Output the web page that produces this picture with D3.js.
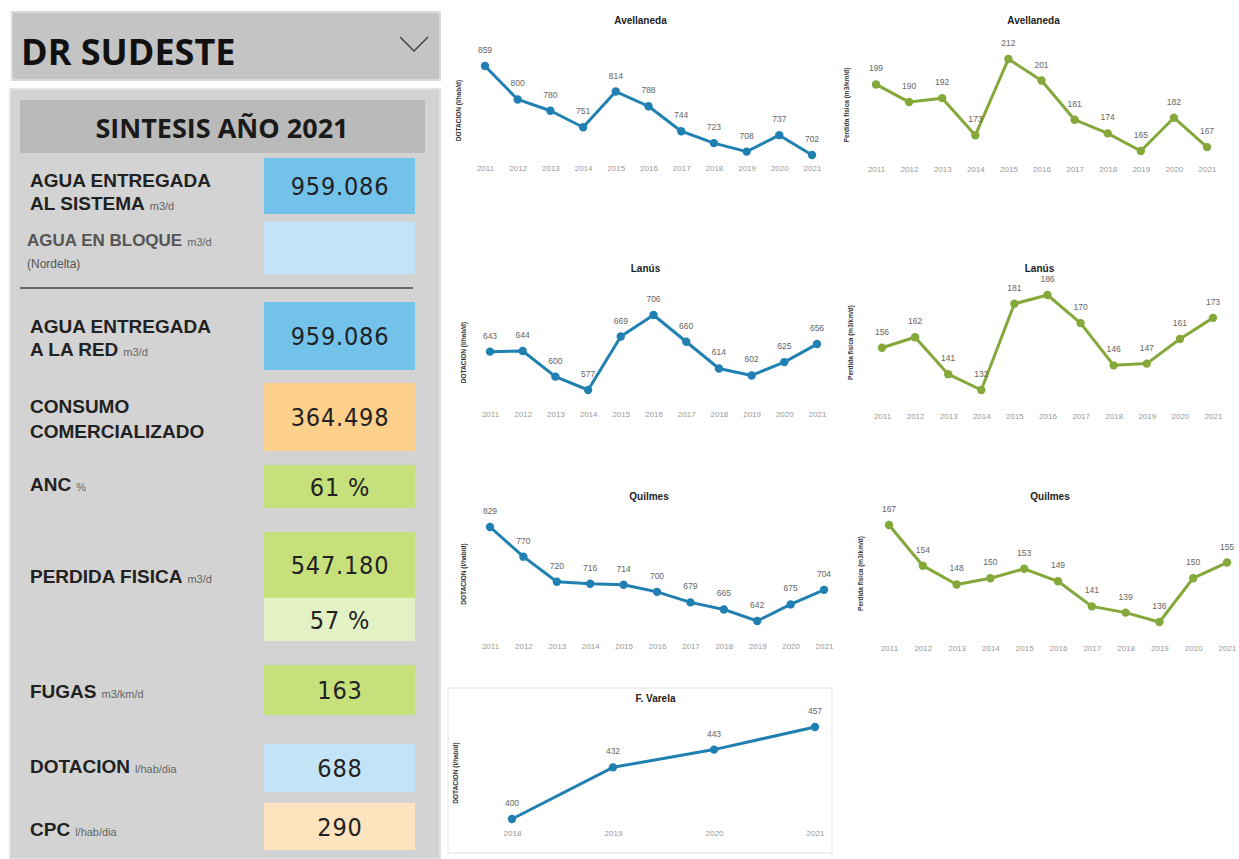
<!DOCTYPE html>
<html>
<head>
<meta charset="utf-8">
<script src="https://cdn.jsdelivr.net/npm/d3@7"></script>
<style>
  body { margin: 0; background: #fff; }
  svg { display: block; font-family: "Liberation Sans", Arial, sans-serif; }
</style>
</head>
<body>
<svg id="dash" width="1239" height="859"></svg>
<script>
  // ---- data ----
  var years = ["2011","2012","2013","2014","2015","2016","2017","2018","2019","2020","2021"];
  var yearsVarela = ["2018","2019","2020","2021"];

  var avellanedaDot = [859, 800, 780, 751, 814, 788, 744, 723, 708, 737, 702];
  var avellanedaPf  = [199, 190, 192, 173, 212, 201, 181, 174, 165, 182, 167];
  var lanusDot      = [643, 644, 600, 577, 669, 706, 660, 614, 602, 625, 656];
  var lanusPf       = [156, 162, 141, 132, 181, 186, 170, 146, 147, 161, 173];
  var quilmesDot    = [829, 770, 720, 716, 714, 700, 679, 665, 642, 675, 704];
  var quilmesPf     = [167, 154, 148, 150, 153, 149, 141, 139, 136, 150, 155];
  var varelaDot     = [400, 432, 443, 457];

  var kpiValues = ["959.086", "", "959.086", "364.498", "61 %", "547.180", "57 %", "163", "688", "290"];

  var svg = d3.select("#dash");

  // ---- left panel ----
  svg.append("rect").attr("x", 12).attr("y", 12).attr("width", 428).attr("height", 68)
    .attr("fill", "#c4c4c4").attr("stroke", "#dadada").attr("stroke-width", 2);
  svg.append("text").attr("x", 21).attr("y", 65)
    .style("font-family", "'Open Sans', sans-serif").style("font-weight", "bold")
    .style("font-size", "36px").attr("fill", "#111").text("DR SUDESTE");
  svg.append("polyline").attr("points", "400,37 414,51 428,37")
    .attr("fill", "none").attr("stroke", "#444").attr("stroke-width", 1.5);

  svg.append("rect").attr("x", 10).attr("y", 89).attr("width", 430).attr("height", 770)
    .attr("fill", "#d3d3d3").attr("stroke", "#e2e2e2").attr("stroke-width", 2);
  svg.append("rect").attr("x", 20).attr("y", 100).attr("width", 405).attr("height", 53)
    .attr("fill", "#bababa");
  svg.append("text").attr("x", 222).attr("y", 138).attr("text-anchor", "middle")
    .style("font-family", "'Open Sans', sans-serif").style("font-weight", "bold")
    .style("font-size", "27px").attr("fill", "#1a1a1a").text("SINTESIS AÑO 2021");

  svg.append("line").attr("x1", 20).attr("x2", 413).attr("y1", 288).attr("y2", 288)
    .attr("stroke", "#6a6a6a").attr("stroke-width", 2);

  // value boxes
  var boxes = [
    { i: 0, y: 158, h: 56, fill: "#72c2ea" },
    { i: 1, y: 222, h: 52, fill: "#c2e4f6" },
    { i: 2, y: 302, h: 68, fill: "#72c2ea" },
    { i: 3, y: 383, h: 68, fill: "#fdd08c" },
    { i: 4, y: 465, h: 43, fill: "#c6e07c" },
    { i: 5, y: 532, h: 66, fill: "#c6e07c" },
    { i: 6, y: 598, h: 43, fill: "#e3f1c4" },
    { i: 7, y: 665, h: 50, fill: "#c6e07c" },
    { i: 8, y: 744, h: 48, fill: "#c2e4f6" },
    { i: 9, y: 803, h: 47, fill: "#fde3be" }
  ];
  var bx = svg.append("g").selectAll("g").data(boxes).enter().append("g");
  bx.append("rect").attr("x", 264).attr("y", function(d) { return d.y; })
    .attr("width", 151).attr("height", function(d) { return d.h; })
    .attr("fill", function(d) { return d.fill; });
  bx.append("text").attr("x", 340).attr("y", function(d) { return d.y + d.h / 2 + 9; })
    .attr("text-anchor", "middle")
    .style("font-family", "'DejaVu Sans Condensed', 'DejaVu Sans', sans-serif")
    .style("font-size", "25px").style("letter-spacing", "0.8px").attr("fill", "#222")
    .text(function(d) { return kpiValues[d.i]; });

  // labels: one entry per text line, with its unit
  var labelLines = [
    { y: 187, t: "AGUA ENTREGADA", u: "" },
    { y: 210, t: "AL SISTEMA", u: "m3/d" },
    { y: 246, t: "AGUA EN BLOQUE", u: "m3/d", light: true },
    { y: 268, t: "(Nordelta)", u: "", small: true },
    { y: 333, t: "AGUA ENTREGADA", u: "" },
    { y: 356, t: "A LA RED", u: "m3/d" },
    { y: 413, t: "CONSUMO", u: "" },
    { y: 438, t: "COMERCIALIZADO", u: "" },
    { y: 491, t: "ANC", u: "%" },
    { y: 583, t: "PERDIDA FISICA", u: "m3/d" },
    { y: 698, t: "FUGAS", u: "m3/km/d" },
    { y: 773, t: "DOTACION", u: "l/hab/dia" },
    { y: 836, t: "CPC", u: "l/hab/dia" }
  ];
  var lab = svg.append("g").selectAll("text").data(labelLines).enter().append("text")
    .attr("x", function(d) { return d.light || d.small ? 27 : 30; })
    .attr("y", function(d) { return d.y; })
    .style("font-size", function(d) { return d.small ? "12px" : (d.light ? "17px" : "19px"); })
    .style("font-weight", function(d) { return d.small ? "normal" : "bold"; })
    .attr("fill", function(d) { return d.light || d.small ? "#555" : "#222"; });
  lab.append("tspan").text(function(d) { return d.t; });
  lab.append("tspan").attr("dx", 5).style("font-size", "11px").style("font-weight", "normal")
    .attr("fill", "#666").text(function(d) { return d.u; });

  // ---- line charts ----
  var BLUE = "#2180b2", GREEN = "#84a83a";
  var charts = [
    { title: "Avellaneda", cats: years, vals: avellanedaDot, color: BLUE, yl: "DOTACION (l/hab/d)",
      x0: 485, x1: 812, top: 66, bot: 155, ty: 24, lx: 461, labY: 170 },
    { title: "Avellaneda", cats: years, vals: avellanedaPf, color: GREEN, yl: "Perdida fisica (m3/km/d)",
      x0: 876, x1: 1207, top: 59, bot: 151, ty: 24, lx: 849, labY: 171 },
    { title: "Lanús", cats: years, vals: lanusDot, color: BLUE, yl: "DOTACION (l/hab/d)",
      x0: 490, x1: 817, top: 315, bot: 390, ty: 272, lx: 466, labY: 416 },
    { title: "Lanús", cats: years, vals: lanusPf, color: GREEN, yl: "Perdida fisica (m3/km/d)",
      x0: 882, x1: 1213, top: 295, bot: 390, ty: 272, lx: 853, labY: 418 },
    { title: "Quilmes", cats: years, vals: quilmesDot, color: BLUE, yl: "DOTACION (l/hab/d)",
      x0: 490, x1: 824, top: 527, bot: 621, ty: 500, lx: 466, labY: 648 },
    { title: "Quilmes", cats: years, vals: quilmesPf, color: GREEN, yl: "Perdida fisica (m3/km/d)",
      x0: 889, x1: 1227, top: 525, bot: 622, ty: 500, lx: 863, labY: 650 },
    { title: "F. Varela", cats: yearsVarela, vals: varelaDot, color: BLUE, yl: "DOTACION (l/hab/d)",
      x0: 512, x1: 815, top: 727, bot: 819, ty: 702, lx: 458, labY: 835, panel: [448, 688, 384, 165] }
  ];

  charts.forEach(function(c) {
    var g = svg.append("g");
    if (c.panel) {
      g.append("rect").attr("x", c.panel[0]).attr("y", c.panel[1])
        .attr("width", c.panel[2]).attr("height", c.panel[3])
        .attr("fill", "#fff").attr("stroke", "#ececec").attr("stroke-width", 1.5);
    }

    var x = d3.scalePoint().domain(c.cats).range([c.x0, c.x1]);
    var y = d3.scaleLinear().domain(d3.extent(c.vals)).range([c.bot, c.top]);
    var pts = c.cats.map(function(k, i) { return { k: k, v: c.vals[i] }; });

    g.append("text").attr("x", (c.x0 + c.x1) / 2 - 8).attr("y", c.ty).attr("text-anchor", "middle")
      .style("font-size", "10px").style("font-weight", "bold").attr("fill", "#222").text(c.title);

    g.append("text").attr("transform", "translate(" + c.lx + "," + ((c.top + c.bot) / 2) + ") rotate(-90)")
      .attr("text-anchor", "middle").style("font-size", "6.5px").style("font-weight", "bold")
      .attr("fill", "#333").text(c.yl);

    var xAxis = g.append("g").attr("transform", "translate(0," + (c.labY - 9) + ")")
      .call(d3.axisBottom(x).tickSize(0).tickPadding(4));
    xAxis.select(".domain").remove();
    xAxis.selectAll("text").style("font-size", "8px").attr("fill", "#999")
      .style("font-family", "'Liberation Sans', Arial, sans-serif");

    g.append("path").datum(pts)
      .attr("d", d3.line().x(function(d) { return x(d.k); }).y(function(d) { return y(d.v); }))
      .attr("fill", "none").attr("stroke", c.color).attr("stroke-width", 3)
      .attr("stroke-linejoin", "round");

    g.selectAll("circle").data(pts).enter().append("circle")
      .attr("cx", function(d) { return x(d.k); }).attr("cy", function(d) { return y(d.v); })
      .attr("r", 4.2).attr("fill", c.color);

    g.selectAll("text.val").data(pts).enter().append("text").attr("class", "val")
      .attr("x", function(d) { return x(d.k); }).attr("y", function(d) { return y(d.v) - 13; })
      .attr("text-anchor", "middle").style("font-size", "8.5px").attr("fill", "#666")
      .text(function(d) { return d.v; });
  });
</script>
</body>
</html>
